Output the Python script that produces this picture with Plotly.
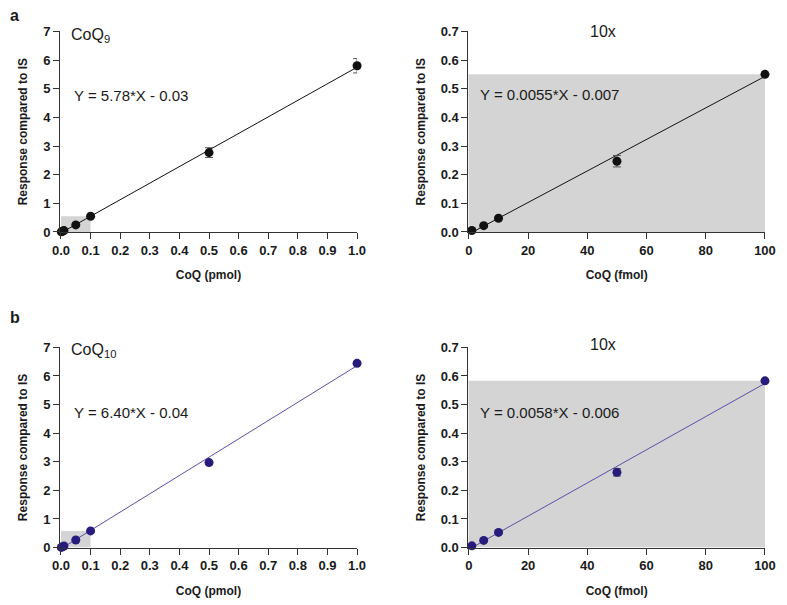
import plotly.graph_objects as go

W, H = 787, 605

# ---------------- data ----------------
conc_pmol = [0.001, 0.005, 0.01, 0.05, 0.1, 0.5, 1.0]
conc_fmol = [1, 5, 10, 50, 100]

coq9_resp = [0.005, 0.022, 0.048, 0.247, 0.55, 2.77, 5.80]
coq9_err = [0.002, 0.003, 0.004, 0.02, 0.02, 0.17, 0.25]
coq9_10x_resp = [0.005, 0.022, 0.048, 0.247, 0.55]
coq9_10x_err = [0.002, 0.003, 0.004, 0.02, 0.004]

coq10_resp = [0.006, 0.025, 0.053, 0.263, 0.583, 2.97, 6.44]
coq10_err = [0.002, 0.003, 0.004, 0.013, 0.01, 0.06, 0.05]
coq10_10x_resp = [0.006, 0.025, 0.053, 0.263, 0.583]
coq10_10x_err = [0.002, 0.003, 0.004, 0.013, 0.004]

fit_slopes = [5.78, 0.0055, 6.40, 0.0058]
fit_intercepts = [-0.03, -0.007, -0.04, -0.006]
fit_labels = ["Y = 5.78*X - 0.03", "Y = 0.0055*X - 0.007",
              "Y = 6.40*X - 0.04", "Y = 0.0058*X - 0.006"]
fit_x_ranges = [[0.0, 1.0], [1, 100], [0.0, 1.0], [1, 100]]

shade_tops = [0.55, 0.583]

x_ticks_pmol = [0.0, 0.1, 0.2, 0.3, 0.4, 0.5, 0.6, 0.7, 0.8, 0.9, 1.0]
x_ticks_fmol = [0, 20, 40, 60, 80, 100]
y_ticks_big = [0, 1, 2, 3, 4, 5, 6, 7]
y_ticks_small = [0.0, 0.1, 0.2, 0.3, 0.4, 0.5, 0.6, 0.7]

# ---------------- style ----------------
BLACK = "#111111"
NAVY = "#271c7c"
NAVY_LINE = "#5a50a8"
SHADE = "#d4d4d4"
AXIS = "#333333"
TXT = "#1a1a1a"
FONT = "Liberation Sans, Arial, sans-serif"


def px_x(p):
    return p / W


def px_y(p):
    return 1 - p / H


# panel pixel boxes (left, right, top, bottom)
panels = [
    (53.3, 357.7, 25.0, 230.7),
    (471.7, 775.7, 25.0, 230.7),
    (53.3, 357.7, 349.0, 554.3),
    (471.7, 775.7, 349.0, 554.3),
]

fig = go.Figure()

series = [
    (conc_pmol, coq9_resp, coq9_err, BLACK, BLACK),
    (conc_fmol, coq9_10x_resp, coq9_10x_err, BLACK, BLACK),
    (conc_pmol, coq10_resp, coq10_err, NAVY, NAVY_LINE),
    (conc_fmol, coq10_10x_resp, coq10_10x_err, NAVY, NAVY_LINE),
]

for i, (xs, ys, es, mcol, lcol) in enumerate(series):
    ax = "" if i == 0 else str(i + 1)
    xr = fit_x_ranges[i]
    fx = [xr[0], xr[1]]
    fy = [fit_slopes[i] * v + fit_intercepts[i] for v in fx]
    fig.add_trace(go.Scatter(
        x=fx, y=fy, mode="lines", line=dict(color=lcol, width=1),
        xaxis="x" + ax, yaxis="y" + ax, showlegend=False, hoverinfo="skip",
    ))
    fig.add_trace(go.Scatter(
        x=xs, y=ys, mode="markers",
        marker=dict(color=mcol, size=9),
        error_y=dict(type="data", array=es, visible=True, color="#555555",
                     thickness=1, width=4),
        xaxis="x" + ax, yaxis="y" + ax, showlegend=False, cliponaxis=False,
    ))

layout = dict(
    width=W, height=H,
    margin=dict(l=0, r=0, t=0, b=0),
    paper_bgcolor="white", plot_bgcolor="rgba(0,0,0,0)",
    font=dict(family=FONT, color=TXT),
    showlegend=False,
)

for i, (l, r, t, b) in enumerate(panels):
    ax = "" if i == 0 else str(i + 1)
    small = i in (1, 3)
    if small:
        xrange = [-0.2, 100]
        xt = x_ticks_fmol
        xtext = ["<b>%d</b>" % v for v in xt]
        xtitle = "<b>CoQ (fmol)</b>"
        yt = y_ticks_small
        ytext = ["<b>%.1f</b>" % v for v in yt]
    else:
        xrange = [-0.0033, 1.0]
        xt = x_ticks_pmol
        xtext = ["<b>%.1f</b>" % v for v in xt]
        xtitle = "<b>CoQ (pmol)</b>"
        yt = y_ticks_big
        ytext = ["<b>%d</b>" % v for v in yt]
    common = dict(
        showline=True, linecolor=AXIS, linewidth=1,
        ticks="outside", ticklen=6, tickwidth=1, tickcolor=AXIS,
        showgrid=False, zeroline=False,
        tickfont=dict(family=FONT, size=13, color=TXT),
        title_font=dict(family=FONT, size=12, color=TXT),
    )
    layout["xaxis" + ax] = dict(
        common, domain=[px_x(l), px_x(r)], range=xrange,
        tickvals=xt, ticktext=xtext, anchor="y" + ax,
        title=dict(text=xtitle, standoff=14),
    )
    layout["yaxis" + ax] = dict(
        common, domain=[px_y(b), px_y(t)], range=[0, 0.7 if small else 7],
        tickvals=yt, ticktext=ytext, anchor="x" + ax,
        title=dict(text="<b>Response compared to IS</b>", standoff=12),
    )

fig.update_layout(**layout)

# shaded zoom regions
shapes = [
    dict(type="rect", xref="x", yref="y", x0=0, x1=0.1, y0=0, y1=shade_tops[0],
         fillcolor=SHADE, line=dict(width=0), layer="below"),
    dict(type="rect", xref="x2", yref="y2", x0=-0.2, x1=100, y0=0, y1=shade_tops[0],
         fillcolor=SHADE, line=dict(width=0), layer="below"),
    dict(type="rect", xref="x3", yref="y3", x0=0, x1=0.1, y0=0, y1=shade_tops[1],
         fillcolor=SHADE, line=dict(width=0), layer="below"),
    dict(type="rect", xref="x4", yref="y4", x0=-0.2, x1=100, y0=0, y1=shade_tops[1],
         fillcolor=SHADE, line=dict(width=0), layer="below"),
]
fig.update_layout(shapes=shapes)

annotations = []


def ann(text, x, y, size, xanchor="left"):
    annotations.append(dict(
        text=text, x=px_x(x), y=px_y(y), xref="paper", yref="paper",
        xanchor=xanchor, yanchor="middle", showarrow=False,
        font=dict(family=FONT, size=size, color=TXT),
    ))


ann("<b>a</b>", 0, 9, 16)
ann("<b>b</b>", 0, 318, 16)
ann("CoQ<sub>9</sub>", 62, 29, 16)
ann("CoQ<sub>10</sub>", 62, 352, 16)
ann("10x", 610, 25, 16, xanchor="center")
ann("10x", 610, 346, 16, xanchor="center")
ann(fit_labels[0], 66, 91, 15)
ann(fit_labels[1], 482, 90, 15)
ann(fit_labels[2], 66, 416, 15)
ann(fit_labels[3], 482, 416, 15)

fig.update_layout(annotations=annotations)

fig.write_html(
    "out.html",
    config={"displayModeBar": False},
    post_script="document.body.style.margin='0';document.body.style.overflow='hidden';",
)
